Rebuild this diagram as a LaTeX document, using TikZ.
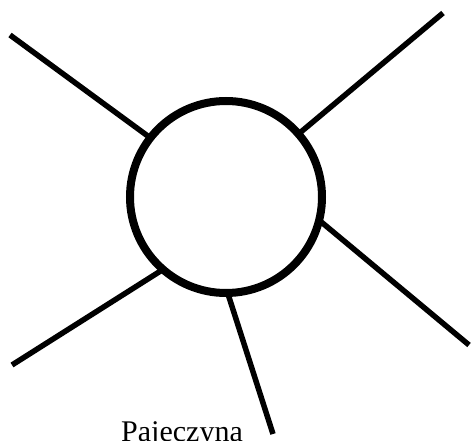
\documentclass[tikz,border=0pt]{standalone}
\usepackage{fontspec}
\setmainfont{Liberation Serif}
\usepackage{tikz}

\begin{document}
\begin{tikzpicture}[x=1pt,y=-1pt,
        spoke/.style={draw=black,line width=5.5pt},
        web/.style={draw=black,circle,line width=8pt,minimum size=192pt,outer sep=0pt,inner sep=0pt}]
        \useasboundingbox (0,0) rectangle (472,441);
        \node[web] (hub) at (226,197) {};
        \coordinate (tl) at (10,35);
        \coordinate (tr) at (443,13);
        \coordinate (rr) at (469,345);
        \coordinate (bl) at (12,365);
        \coordinate (bb) at (273,434);
        \draw[spoke] (tl) -- (hub.142);
        \draw[spoke] (tr) -- (hub.41);
        \draw[spoke] (rr) -- (hub.-14);
        \draw[spoke] (bl) -- (hub.-131);
        \draw[spoke] (bb) -- (hub.-89);
        \node[anchor=base west,inner sep=0pt,font=\fontsize{30}{34}\selectfont] (caption) at (121,441.5) {Pajeczyna};
    \end{tikzpicture}
\end{document}
